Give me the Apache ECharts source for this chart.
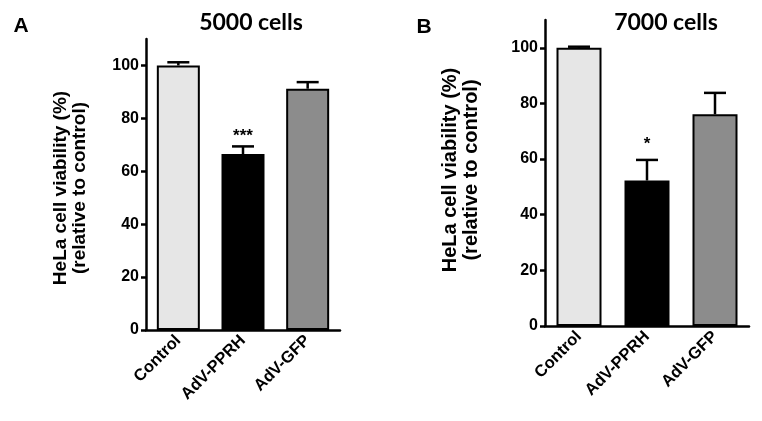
<!DOCTYPE html>
<html>
<head>
<meta charset="utf-8">
<script src="https://cdn.jsdelivr.net/npm/echarts@6/dist/echarts.min.js"></script>
<style>
html,body{margin:0;padding:0;background:#fff;}
#main{width:762px;height:421px;}
</style>
</head>
<body>
<div id="main"></div>
<script>
// ---- data ----
const categories = ['Control', 'AdV-PPRH', 'AdV-GFP'];
const meanA = [100, 66.5, 91.2];
const semA = [1.2, 2.9, 2.5];
const sigA = ['', '***', ''];
const meanB = [100, 52.3, 76.1];
const semB = [0.4, 7.4, 7.7];
const sigB = ['', '*', ''];
const yTicks = [0, 20, 40, 60, 80, 100];
const titleA = '5000 cells';
const titleB = '7000 cells';
const panelA = 'A';
const panelB = 'B';
const yName1 = 'HeLa cell viability (%)';
const yName2 = '(relative to control)';

const barColors = ['#e6e6e6', '#000000', '#8c8c8c'];
const FONT = '"Liberation Sans", Arial, sans-serif';

function barSeries(means, gi, bw) {
  return {
    type: 'bar', xAxisIndex: gi, yAxisIndex: gi, barWidth: bw,
    data: means.map((v, i) => ({
      value: v,
      itemStyle: { color: barColors[i], borderColor: '#000', borderWidth: 2 }
    })),
    silent: true, animation: false, z: 2
  };
}

function errSeries(means, sems, sigs, gi, capW, sigGap) {
  return {
    type: 'custom', xAxisIndex: gi, yAxisIndex: gi, silent: true, animation: false, z: 3,
    data: means.map((v, i) => [i, v, v + sems[i]]),
    renderItem: function (params, api) {
      const i = api.value(0);
      const base = api.coord([i, api.value(1)]);
      const top = api.coord([i, api.value(2)]);
      const children = [
        { type: 'line', shape: { x1: base[0], y1: base[1], x2: top[0], y2: top[1] },
          style: { stroke: '#000', lineWidth: 2.5 } },
        { type: 'line', shape: { x1: top[0] - capW / 2, y1: top[1], x2: top[0] + capW / 2, y2: top[1] },
          style: { stroke: '#000', lineWidth: 2.5 } }
      ];
      const s = sigs[i];
      if (s) {
        children.push({ type: 'text', x: top[0], y: top[1] - sigGap,
          style: { text: s, fill: '#000', font: 'bold 17px ' + FONT, align: 'center', verticalAlign: 'bottom' } });
      }
      return { type: 'group', children: children };
    }
  };
}

function xAxisCfg(gi) {
  return {
    type: 'category', gridIndex: gi, data: categories,
    axisLine: { lineStyle: { color: '#000', width: 2.5 } },
    axisTick: { alignWithLabel: true, length: 6, lineStyle: { color: '#000', width: 2.5 } },
    axisLabel: { rotate: 45, color: '#000', fontWeight: 'bold', fontSize: 16.5, fontFamily: FONT, margin: 8 }
  };
}
function yAxisCfg(gi) {
  return {
    type: 'value', gridIndex: gi, min: 0, max: 110,
    splitLine: { show: false },
    axisLine: { show: true, lineStyle: { color: '#000', width: 2.5 } },
    axisTick: { show: true, length: 5, customValues: yTicks, lineStyle: { color: '#000', width: 2.5 } },
    axisLabel: { color: '#000', fontWeight: 'bold', fontSize: 16, fontFamily: FONT, margin: 7, customValues: yTicks }
  };
}

const chart = echarts.init(document.getElementById('main'), null, { renderer: 'canvas' });
chart.setOption({
  backgroundColor: '#fff',
  animation: false,
  grid: [
    { left: 146, top: 39, width: 194, height: 291 },
    { left: 545, top: 20, width: 204, height: 306 }
  ],
  xAxis: [xAxisCfg(0), xAxisCfg(1)],
  yAxis: [yAxisCfg(0), yAxisCfg(1)],
  series: [
    barSeries(meanA, 0, 43),
    errSeries(meanA, semA, sigA, 0, 22, 2),
    barSeries(meanB, 1, 45),
    errSeries(meanB, semB, sigB, 1, 22, 7)
  ],
  graphic: [
    { type: 'text', x: 21, y: 26, style: { text: panelA, font: 'bold 21px ' + FONT, fill: '#000', align: 'center', verticalAlign: 'middle' } },
    { type: 'text', x: 424, y: 27, style: { text: panelB, font: 'bold 21px ' + FONT, fill: '#000', align: 'center', verticalAlign: 'middle' } },
    { type: 'text', x: 251, y: 23, style: { text: titleA, font: 'bold 23px Lato, sans-serif', fill: '#000', align: 'center', verticalAlign: 'middle' } },
    { type: 'text', x: 666, y: 23, style: { text: titleB, font: 'bold 23px Lato, sans-serif', fill: '#000', align: 'center', verticalAlign: 'middle' } },
    { type: 'text', x: 70, y: 188, rotation: Math.PI / 2,
      style: { text: yName1 + '\n' + yName2, font: 'bold 19px ' + FONT, lineHeight: 19, fill: '#000', align: 'center', verticalAlign: 'middle' } },
    { type: 'text', x: 461, y: 170, rotation: Math.PI / 2,
      style: { text: yName1 + '\n' + yName2, font: 'bold 20px ' + FONT, lineHeight: 21, fill: '#000', align: 'center', verticalAlign: 'middle' } }
  ]
});
</script>
</body>
</html>
